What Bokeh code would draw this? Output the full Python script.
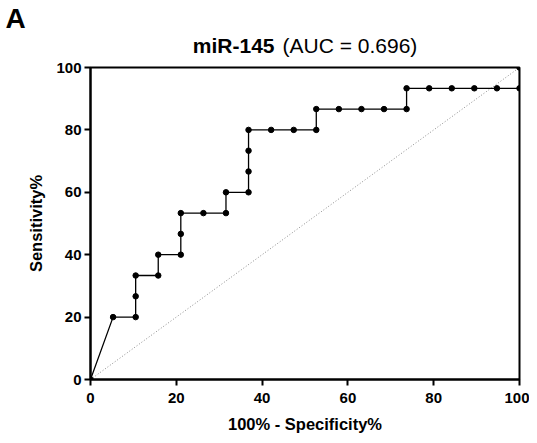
from bokeh.plotting import figure
from bokeh.models import Range1d, ColumnDataSource, Title
from bokeh.layouts import column
from bokeh.core.properties import value
from bokeh.embed import file_html
from bokeh.resources import INLINE

# ROC curve points (100% - Specificity%, Sensitivity%)
fpr = [0, 5.26, 10.53, 10.53, 10.53, 15.79, 15.79, 21.05, 21.05, 21.05, 26.32,
       31.58, 31.58, 36.84, 36.84, 36.84, 36.84, 42.11, 47.37, 52.63, 52.63,
       57.89, 63.16, 68.42, 73.68, 73.68, 78.95, 84.21, 89.47, 94.74, 100, 100]
tpr = [0, 20, 20, 26.67, 33.33, 33.33, 40, 40, 46.67, 53.33, 53.33,
       53.33, 60, 60, 66.67, 73.33, 80, 80, 80, 80, 86.67,
       86.67, 86.67, 86.67, 86.67, 93.33, 93.33, 93.33, 93.33, 93.33, 93.33, 100]
ref_x = [0, 100]
ref_y = [0, 100]
ticks = [0, 20, 40, 60, 80, 100]
title_bold = "miR-145"
title_normal = "(AUC = 0.696)"
panel = "A"

FONT = "Liberation Sans"
HEAD_F = 32

# ---- header (panel letter + title) ----
h = figure(output_backend="svg", toolbar_location=None,
           frame_width=429, frame_height=HEAD_F,
           min_border_left=90, min_border_right=10, min_border_top=28, min_border_bottom=0,
           x_range=Range1d(90, 519), y_range=Range1d(0, HEAD_F),
           x_axis_type=None, y_axis_type=None)
h.grid.visible = False
h.outline_line_color = None
h.add_layout(Title(text=panel, align="left", vertical_align="top", offset=-85, standoff=-14,
                   text_font=FONT, text_font_style="bold", text_font_size="28px",
                   text_color="black"), "above")
h.text(x=[274], y=[15], text=[title_bold], text_align="right", text_baseline="alphabetic",
       text_font=value(FONT), text_font_style="bold", text_font_size="21px", text_color="black")
h.text(x=[282], y=[15], text=[title_normal], text_align="left", text_baseline="alphabetic",
       text_font=value(FONT), text_font_style="normal", text_font_size="21px", text_color="black")

# ---- main ROC plot ----
p = figure(output_backend="svg", toolbar_location=None,
           frame_width=429, frame_height=312,
           min_border_left=90, min_border_top=7, min_border_right=10, min_border_bottom=56,
           x_range=Range1d(0, 100), y_range=Range1d(0, 100))
p.grid.visible = False
p.outline_line_color = "black"
p.outline_line_width = 2
p.background_fill_color = "white"
p.border_fill_color = "white"

for ax in (p.xaxis[0], p.yaxis[0]):
    ax.ticker = ticks
    ax.axis_line_width = 2
    ax.axis_line_color = "black"
    ax.major_tick_line_width = 2
    ax.major_tick_out = 6
    ax.major_tick_in = 0
    ax.minor_tick_out = 0
    ax.minor_tick_in = 0
    ax.major_label_text_font = FONT
    ax.major_label_text_font_style = "bold"
    ax.major_label_text_font_size = "15px"
    ax.major_label_text_color = "black"
    ax.axis_label_text_font = FONT
    ax.axis_label_text_font_style = "bold"
    ax.axis_label_text_font_size = "16.5px"
    ax.axis_label_text_color = "black"

p.xaxis.axis_label = "100% - Specificity%"
p.yaxis.axis_label = "Sensitivity%"
p.xaxis.major_label_standoff = 7
p.yaxis.major_label_standoff = 3
p.xaxis.axis_label_standoff = 9
p.yaxis.axis_label_standoff = 8

p.line(ref_x, ref_y, line_color="#8c8c8c", line_width=1, line_dash="1 2")
src = ColumnDataSource(dict(x=fpr, y=tpr))
p.line("x", "y", source=src, line_color="black", line_width=1.3)
p.scatter("x", "y", source=src, size=5.5, fill_color="black", line_color="black")

layout = column(h, p, spacing=0)
open("out.html", "w").write(file_html(layout, INLINE))
